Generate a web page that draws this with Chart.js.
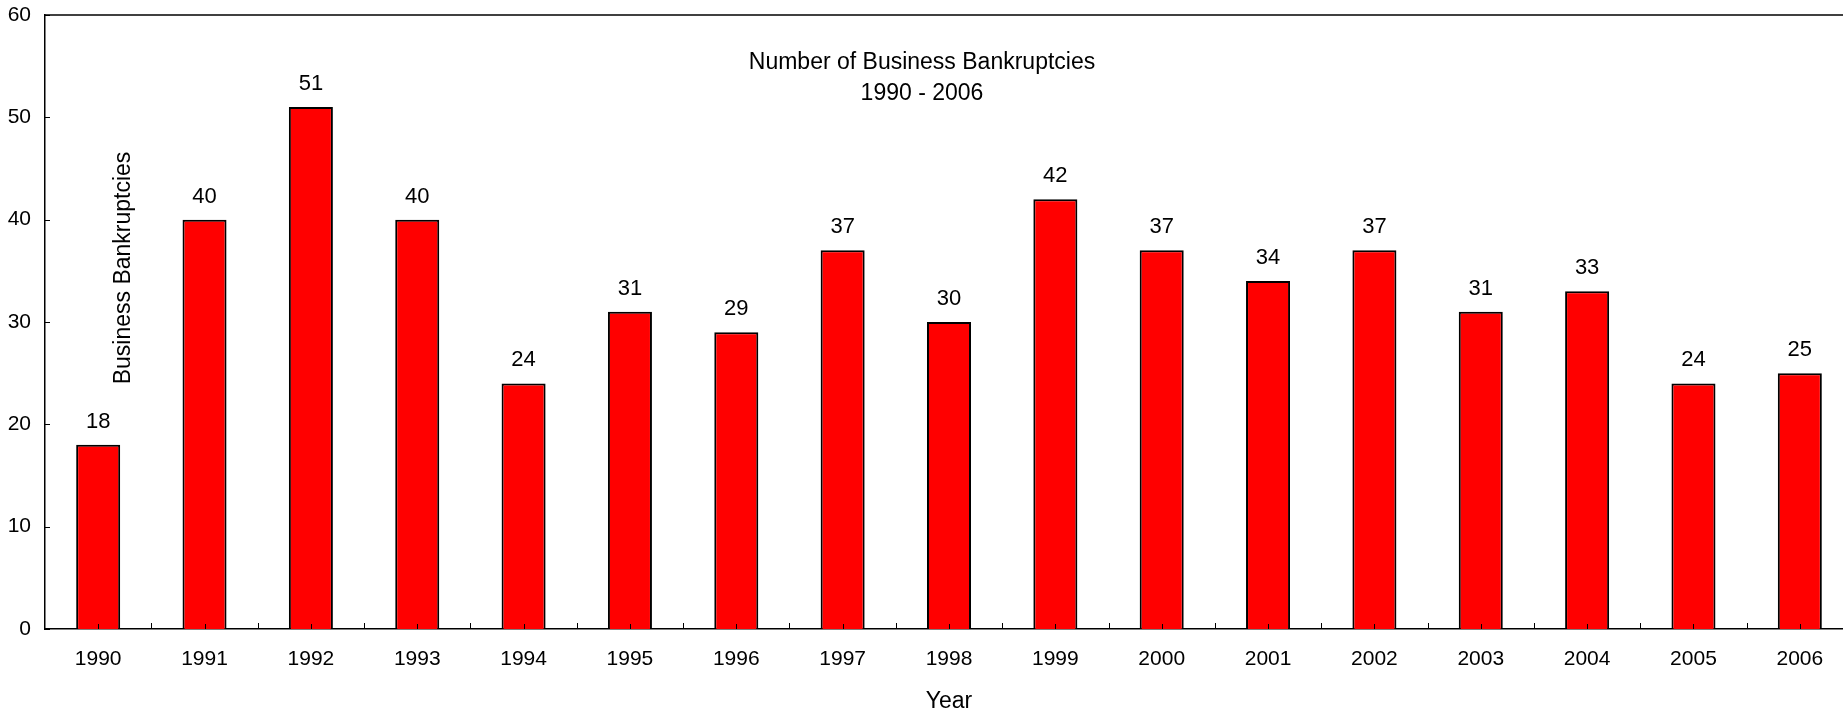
<!DOCTYPE html>
<html>
<head>
<meta charset="utf-8">
<title>Number of Business Bankruptcies 1990 - 2006</title>
<script src="https://cdn.jsdelivr.net/npm/chart.js@4/dist/chart.umd.min.js"></script>
<style>
  html, body { margin: 0; padding: 0; overflow: hidden; background: #fff; }
  #wrap { width: 1843px; height: 713px; overflow: hidden; }
  canvas { display: block; }
</style>
</head>
<body>
<div id="wrap"><canvas id="c" width="1860" height="713"></canvas></div>
<script>
// Yearly counts of business bankruptcies
const years = ['1990', '1991', '1992', '1993', '1994', '1995', '1996', '1997', '1998',
               '1999', '2000', '2001', '2002', '2003', '2004', '2005', '2006'];
const bankruptcies = [18, 40, 51, 40, 24, 31, 29, 37, 30, 42, 37, 34, 37, 31, 33, 24, 25];
const yTicks = [0, 10, 20, 30, 40, 50, 60];
const titleLines = ['Number of Business Bankruptcies', '1990 - 2006'];
const xTitle = 'Year';
const yTitle = 'Business Bankruptcies';

const FONT = '"Liberation Sans", Arial, Helvetica, sans-serif';
// Wanted plot-area edges in canvas pixels
const AREA = { left: 45, top: 15, right: 1853, bottom: 629 };

// Frame, inward tick marks, value labels and in-plot titles
const framePlugin = {
  id: 'frame',
  afterDatasetsDraw(chart) {
    const { ctx, chartArea: a, scales: { x, y } } = chart;
    ctx.save();
    ctx.strokeStyle = '#000';
    ctx.lineWidth = 1.5;
    ctx.beginPath();
    ctx.moveTo(a.left, a.top);
    ctx.lineTo(a.right, a.top);
    ctx.stroke();

    ctx.lineWidth = 1;
    const half = (x.getPixelForValue(1) - x.getPixelForValue(0)) / 2;
    ctx.beginPath();
    years.forEach((_, i) => {
      const cx = Math.round(x.getPixelForValue(i)) + 0.5;
      ctx.moveTo(cx, a.bottom);
      ctx.lineTo(cx, a.bottom - 5);
      const bx = Math.round(x.getPixelForValue(i) + half) + 0.5;
      ctx.moveTo(bx, a.bottom);
      ctx.lineTo(bx, a.bottom - 6);
    });
    yTicks.forEach(v => {
      const py = Math.round(y.getPixelForValue(v)) + 0.5;
      ctx.moveTo(a.left, py);
      ctx.lineTo(a.left + 5, py);
    });
    ctx.stroke();

    ctx.fillStyle = '#000';
    ctx.textAlign = 'center';
    ctx.textBaseline = 'alphabetic';
    ctx.font = '22px ' + FONT;
    chart.getDatasetMeta(0).data.forEach((bar, i) => {
      ctx.fillText(String(bankruptcies[i]), bar.x, bar.y - 17);
    });

    ctx.font = '23px ' + FONT;
    ctx.fillText(titleLines[0], a.left + 877, a.top + 54);
    ctx.fillText(titleLines[1], a.left + 877, a.top + 85);

    ctx.translate(a.left + 85, a.top + 253);
    ctx.rotate(-Math.PI / 2);
    ctx.fillText(yTitle, 0, 0);
    ctx.restore();
  }
};

const chart = new Chart(document.getElementById('c'), {
  type: 'bar',
  data: {
    labels: years,
    datasets: [{
      label: yTitle,
      data: bankruptcies,
      backgroundColor: '#ff0000',
      borderColor: '#000',
      borderWidth: 2,
      barPercentage: 0.414,
      categoryPercentage: 1.0
    }]
  },
  options: {
    responsive: false,
    animation: false,
    devicePixelRatio: 1,
    layout: { padding: { top: AREA.top, right: 1860 - AREA.right, left: 0, bottom: 0 } },
    plugins: {
      legend: { display: false },
      tooltip: { enabled: false },
      title: { display: false }
    },
    scales: {
      x: {
        grid: { display: false, drawTicks: false },
        border: { display: true, color: '#000', width: 1.5 },
        ticks: { color: '#000', font: { family: FONT, size: 21 }, padding: 18, maxRotation: 0, autoSkip: false },
        title: { display: true, text: xTitle, color: '#000', font: { family: FONT, size: 23, lineHeight: 1.0 }, padding: { top: 0, bottom: 0 } },
        afterFit(scale) { scale.height = 713 - AREA.bottom; }
      },
      y: {
        min: yTicks[0],
        max: yTicks[yTicks.length - 1],
        // hidden tick marks only reserve the gap between labels and axis
        grid: { display: false, drawTicks: true, tickLength: 14 },
        border: { display: true, color: '#000', width: 1.5 },
        ticks: { stepSize: yTicks[1] - yTicks[0], color: '#000', font: { family: FONT, size: 21 }, padding: 0 },
        afterFit(scale) { scale.width = AREA.left; }
      }
    }
  },
  plugins: [framePlugin]
});

// Nudge the layout padding so the plot area lands on the wanted edges
const pad = chart.options.layout.padding;
pad.top = Math.max(0, pad.top + AREA.top - chart.chartArea.top);
pad.right += chart.chartArea.right - AREA.right;
chart.update();
</script>
</body>
</html>
